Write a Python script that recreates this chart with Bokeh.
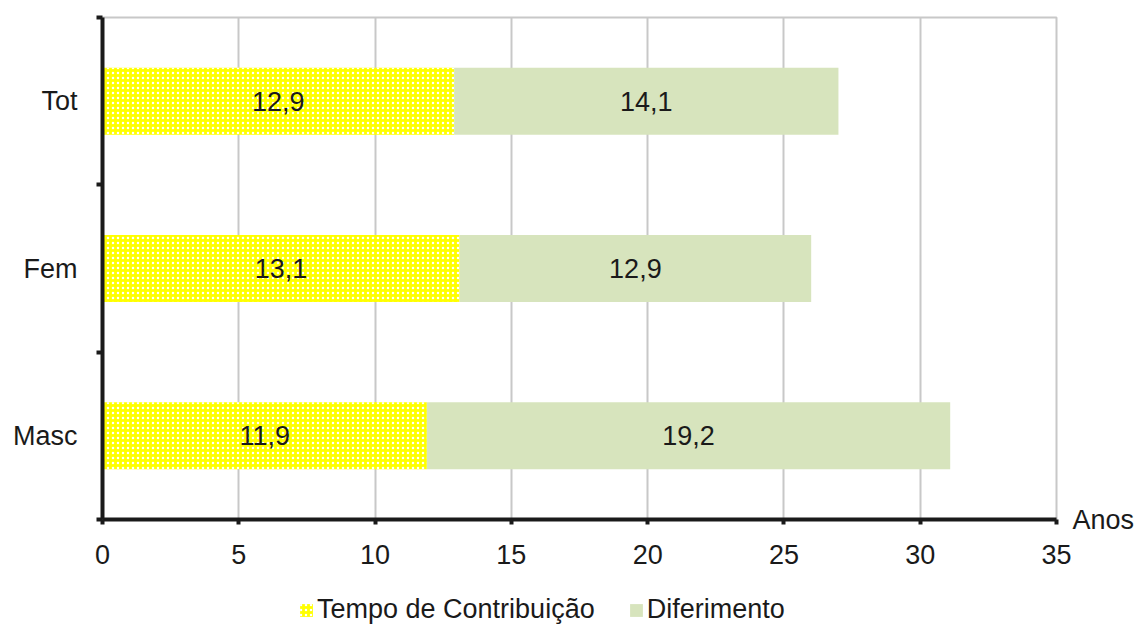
from bokeh.plotting import figure
from bokeh.models import ColumnDataSource, FixedTicker, Legend, LegendItem, LinearAxis
from bokeh.layouts import column
from bokeh.core.properties import value
from bokeh.embed import file_html
from bokeh.resources import INLINE

categories = ["Masc", "Fem", "Tot"]
tempo = [11.9, 13.1, 12.9]
diferimento = [19.2, 12.9, 14.1]
x_ticks = [0, 5, 10, 15, 20, 25, 30, 35]
series_names = ["Tempo de Contribuição", "Diferimento"]
unit_label = "Anos"

FONT = "Liberation Sans"
TXT = "#1a1a1a"
FS = "27px"
YELLOW = "#FFFF00"
GREEN = "#D7E4BD"

pos = [i + 0.5 for i in range(len(categories))]
right2 = [a + b for a, b in zip(tempo, diferimento)]

src = ColumnDataSource(dict(
    y=pos, t=tempo, l2=tempo, r2=right2,
    tx=[v / 2 for v in tempo],
    dx=[a + b / 2 for a, b in zip(tempo, diferimento)],
    tl=[f"{v:.1f}".replace(".", ",") for v in tempo],
    dl=[f"{v:.1f}".replace(".", ",") for v in diferimento],
))

p = figure(width=1137, height=580, output_backend="svg", toolbar_location=None,
           x_range=(0, 35), y_range=(0, 3),
           min_border_left=102, min_border_right=78, min_border_top=17, min_border_bottom=61)

hatch = dict(hatch_pattern="dot", hatch_color="white", hatch_scale=5, hatch_weight=1)
p.hbar(y="y", left=0, right="t", height=0.4, source=src,
       fill_color=YELLOW, line_color=None, **hatch)
p.hbar(y="y", left="l2", right="r2", height=0.4, source=src,
       fill_color=GREEN, line_color=None)

p.text(x="tx", y="y", text="tl", source=src, text_align="center", text_baseline="middle",
       text_font=value(FONT), text_font_size=FS, text_color=TXT)
p.text(x="dx", y="y", text="dl", source=src, text_align="center", text_baseline="middle",
       text_font=value(FONT), text_font_size=FS, text_color=TXT)

# grid
p.ygrid.grid_line_color = None
p.xgrid.ticker = FixedTicker(ticks=x_ticks)
p.xgrid.grid_line_color = "#c8c8c8"
p.xgrid.grid_line_width = 2
p.outline_line_color = "#c8c8c8"
p.outline_line_width = 2

# x axis
xa = p.xaxis[0]
xa.ticker = FixedTicker(ticks=x_ticks)
xa.axis_line_color = TXT
xa.axis_line_width = 4
xa.major_tick_line_color = TXT
xa.major_tick_line_width = 4
xa.major_tick_in = 0
xa.major_tick_out = 5
xa.minor_tick_line_color = None
xa.major_label_text_font = FONT
xa.major_label_text_font_size = FS
xa.major_label_text_color = TXT
xa.major_label_standoff = 20

# y axis
ya = p.yaxis[0]
ya.ticker = FixedTicker(ticks=pos, minor_ticks=[0, 1, 2, 3])
ya.major_label_overrides = {pp: c for pp, c in zip(pos, categories)}
ya.axis_line_color = TXT
ya.axis_line_width = 4
ya.major_tick_line_color = None
ya.major_tick_in = 0
ya.major_tick_out = 0
ya.minor_tick_line_color = TXT
ya.minor_tick_line_width = 4
ya.minor_tick_in = 0
ya.minor_tick_out = 6
ya.major_label_text_font = FONT
ya.major_label_text_font_size = FS
ya.major_label_text_color = TXT
ya.major_label_standoff = 19

# unit label "Anos" at the right end of the x axis, via a right-side axis
ra = LinearAxis(ticker=FixedTicker(ticks=[0]), major_label_overrides={0: unit_label},
                axis_line_color=None, major_tick_line_color=None, minor_tick_line_color=None,
                major_tick_in=0, major_tick_out=0, major_label_standoff=16,
                major_label_text_font=FONT, major_label_text_font_size=FS,
                major_label_text_color=TXT)
p.add_layout(ra, "right")

# legend strip underneath (key glyphs are zero-size, outside its visible range)
lg = figure(width=1137, height=45, output_backend="svg", toolbar_location=None,
            x_range=(0, 1), y_range=(0, 1), min_border=0, outline_line_color=None)
lg.axis.visible = False
lg.grid.visible = False
k1 = lg.hbar(y=[-10], left=[0], right=[0], height=0, fill_color=YELLOW, line_color=None, **hatch)
k2 = lg.hbar(y=[-10], left=[0], right=[0], height=0, fill_color=GREEN, line_color=None)
legend = Legend(items=[LegendItem(label=series_names[0], renderers=[k1]),
                       LegendItem(label=series_names[1], renderers=[k2])],
                orientation="horizontal", location=(196, 0),
                label_text_font=FONT, label_text_font_size=FS, label_text_color=TXT,
                glyph_width=16, glyph_height=16, label_standoff=3, spacing=33,
                padding=0, margin=0, border_line_color=None, background_fill_alpha=0)
lg.add_layout(legend, "center")

layout = column(p, lg, spacing=0)
open("out.html", "w").write(file_html(layout, INLINE))
